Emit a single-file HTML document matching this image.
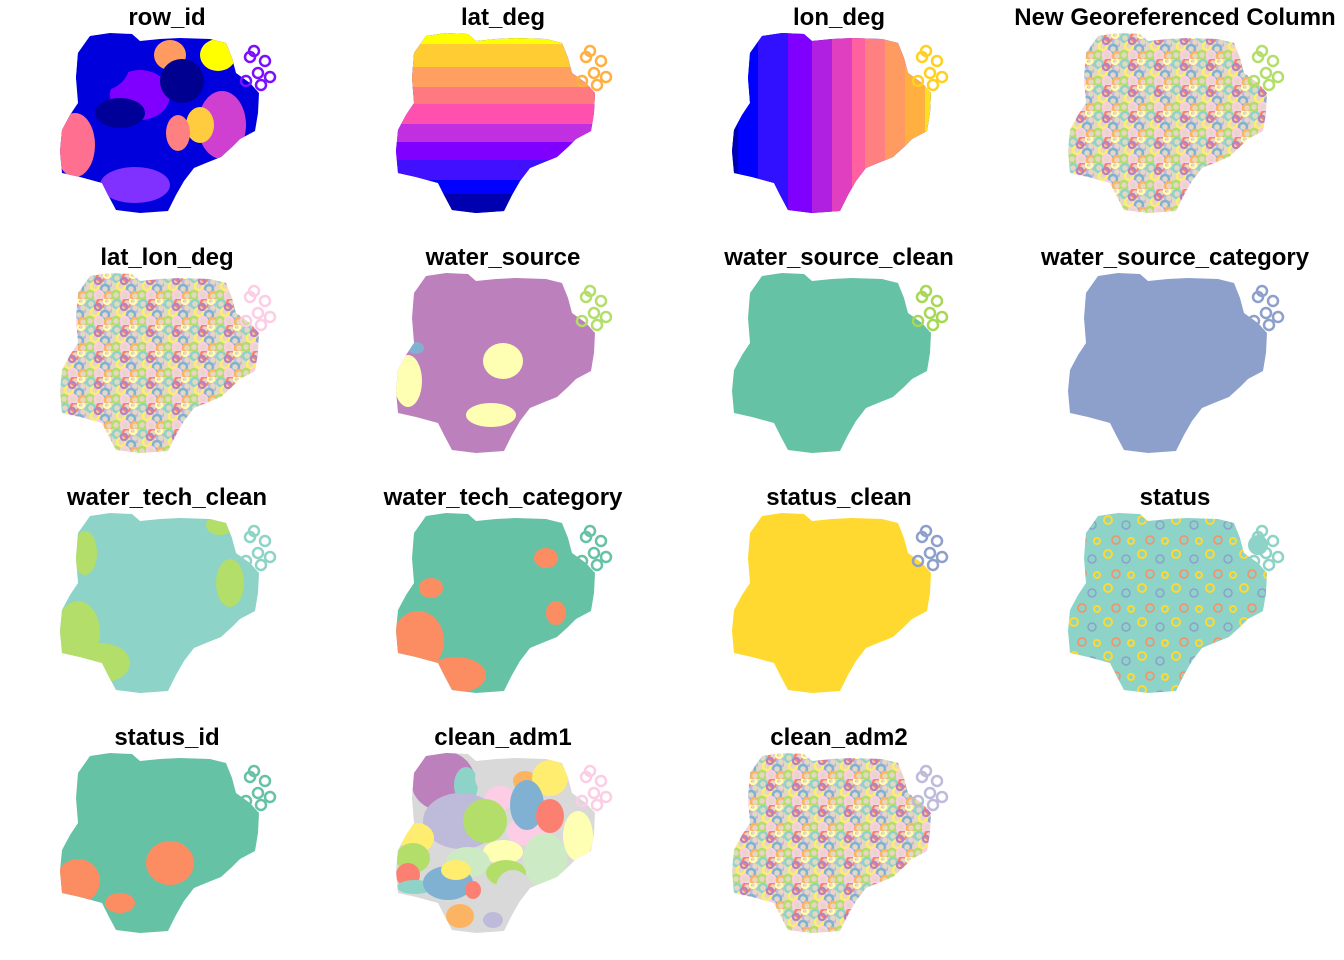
<!DOCTYPE html>
<html><head><meta charset="utf-8"><style>
html,body{margin:0;padding:0;background:#fff;width:1344px;height:960px;overflow:hidden}
svg text{font-family:"Liberation Sans",Arial,sans-serif;font-weight:bold;font-size:24px}
</style></head><body>
<svg id="chart" width="1344" height="960" xmlns="http://www.w3.org/2000/svg">
<defs>
<pattern id="rings" width="26" height="26" patternUnits="userSpaceOnUse">
<rect width="26" height="26" fill="#e4d8c4"/>
<circle cx="5" cy="5" r="4" fill="none" stroke="#8dd3c7" stroke-width="2.5"/>
<circle cx="15" cy="4" r="4" fill="none" stroke="#fb8072" stroke-width="2.5"/>
<circle cx="23" cy="9" r="4" fill="none" stroke="#bebada" stroke-width="2.5"/>
<circle cx="9" cy="13" r="4" fill="none" stroke="#ffed6f" stroke-width="2.5"/>
<circle cx="19" cy="16" r="4" fill="none" stroke="#80b1d3" stroke-width="2.5"/>
<circle cx="4" cy="22" r="4" fill="none" stroke="#b3de69" stroke-width="2.5"/>
<circle cx="13" cy="22" r="4" fill="none" stroke="#fccde5" stroke-width="2.5"/>
<circle cx="23" cy="23" r="4" fill="none" stroke="#fdb462" stroke-width="2.5"/>
<circle cx="12" cy="8" r="3" fill="none" stroke="#bc80bd" stroke-width="2.5"/>
<circle cx="21" cy="2" r="3" fill="none" stroke="#ffffb3" stroke-width="2.5"/>
</pattern>
<pattern id="sparse" width="34" height="34" patternUnits="userSpaceOnUse">
<rect width="34" height="34" fill="#8dd3c7"/>
<circle cx="6" cy="7" r="4" fill="none" stroke="#ffd92f" stroke-width="2"/>
<circle cx="24" cy="12" r="4" fill="none" stroke="#8da0cb" stroke-width="1.5"/>
<circle cx="14" cy="27" r="4" fill="none" stroke="#fc8d62" stroke-width="1.5"/>
<circle cx="29" cy="28" r="3" fill="none" stroke="#ffd92f" stroke-width="2"/>
</pattern>
</defs>
</svg>
<script>
// Panel titles and colour data
const panelTitles = ["row_id","lat_deg","lon_deg","New Georeferenced Column","lat_lon_deg","water_source","water_source_clean","water_source_category","water_tech_clean","water_tech_category","status_clean","status","status_id","clean_adm1","clean_adm2"];
const panelBase = ["#0000dd","#0000ff","#0000ff","url(#rings)","url(#rings)","#bc80bd","#66c2a5","#8da0cb","#8dd3c7","#66c2a5","#ffd92f","url(#sparse)","#66c2a5","#d9d9d9","url(#rings)"];
const clusterColor = ["#7a10ff","#ffb040","#ffd020","#b3de69","#fccde5","#b3de69","#a6d854","#8da0cb","#8dd3c7","#66c2a5","#8da0cb","#8dd3c7","#66c2a5","#fccde5","#bebada"];
const latBandColors = ["#ffff00","#ffcc33","#ffa060","#ff7a80","#ff50b0","#c030e0","#8000ff","#4010ff","#0000ff","#0000b0"];
const latBandEdges = [0,14,37,57,74,94,112,130,150,164,190];
const lonBandColors = ["#0000b0","#0000ff","#3010ff","#8000ff","#b020e0","#e040c0","#ff60a0","#ff8080","#ff9a60","#ffb040","#ffe020"];
const lonBandEdges = [0,6,26,56,80,100,120,133,153,173,193,220];
// patches: [panelIndex, cx, cy, rx, ry, color]
const patches = [
 [0,110,22,16,15,"#ff9a60"],[0,158,22,18,16,"#ffff00"],[0,162,92,24,34,"#d040d0"],[0,140,92,14,18,"#ffcc40"],
 [0,15,112,20,32,"#ff7090"],[0,80,62,30,25,"#8000ff"],[0,75,152,35,18,"#8030ff"],[0,118,100,12,18,"#ff8080"],
 [0,122,48,22,22,"#000090"],[0,60,80,25,15,"#000099"],[0,40,30,30,28,"#0000dd"],
 [5,107,88,20,18,"#ffffb3"],[5,12,108,14,26,"#ffffb3"],[5,95,142,25,12,"#ffffb3"],[5,20,75,8,6,"#80b1d3"],
 [8,18,120,22,32,"#b3de69"],[8,40,150,30,20,"#b3de69"],[8,25,40,12,22,"#b3de69"],[8,170,70,14,24,"#b3de69"],[8,160,12,14,10,"#b3de69"],
 [9,22,128,26,30,"#fc8d62"],[9,60,162,30,18,"#fc8d62"],[9,35,75,12,10,"#fc8d62"],[9,150,45,12,10,"#fc8d62"],[9,160,100,10,12,"#fc8d62"],
 [12,18,128,22,22,"#fc8d62"],[12,110,110,24,22,"#fc8d62"],[12,60,150,15,10,"#fc8d62"],
 [13,47,28,32,30,"#bc80bd"],[13,70,32,12,18,"#8dd3c7"],[13,101,25,22,18,"#d9d9d9"],[13,129,28,12,10,"#fdb462"],
 [13,154,25,18,18,"#ffed6f"],[13,65,68,38,28,"#bebada"],[13,104,45,15,12,"#fccde5"],[13,131,78,20,15,"#fccde5"],
 [13,131,52,17,25,"#80b1d3"],[13,154,63,14,17,"#fb8072"],[13,89,68,22,22,"#b3de69"],[13,182,83,15,25,"#ffffb3"],
 [13,107,99,20,12,"#ffffb3"],[13,149,107,22,27,"#ccebc5"],[13,72,109,22,15,"#ccebc5"],[13,110,120,20,13,"#b3de69"],
 [13,21,85,17,15,"#ffed6f"],[13,17,105,17,15,"#b3de69"],[13,12,122,12,12,"#fb8072"],[13,19,134,18,7,"#8dd3c7"],
 [13,52,130,25,17,"#80b1d3"],[13,60,117,15,10,"#ffed6f"],[13,117,135,17,18,"#d9d9d9"],[13,77,137,8,9,"#fb8072"],
 [13,64,163,14,12,"#fdb462"],[13,97,167,10,8,"#bebada"]
];
const outline = [[30,3],[50,0],[72,1],[80,8],[100,6],[120,5],[150,6],[166,10],[172,25],[176,40],[190,50],[199,60],[198,80],[195,98],[180,106],[172,114],[161,124],[146,130],[134,135],[124,148],[116,162],[108,178],[80,180],[56,177],[48,162],[42,150],[20,144],[2,140],[0,118],[2,97],[10,82],[18,70],[16,45],[18,20]];
const clusterRings = [[190,24],[205,28],[198,40],[210,44],[186,48],[201,52],[194,18]];

const svg = document.getElementById('chart');
const NS = "http://www.w3.org/2000/svg";
function mk(tag, attrs, parent){const e=document.createElementNS(NS,tag);for(const k in attrs)e.setAttribute(k,attrs[k]);parent.appendChild(e);return e;}
const defs = svg.querySelector('defs');
const ptsStr = outline.map(p=>p.join(',')).join(' ');

panelTitles.forEach((title,i)=>{
  const col=i%4,row=Math.floor(i/4);
  const ox=60+336*col, oy=33+240*row;
  const cp=mk('clipPath',{id:'clip'+i},defs);
  mk('polygon',{points:ptsStr},cp);
  const g=mk('g',{transform:`translate(${ox},${oy})`},svg);
  
  
  const t=mk('text',{x:107,y:-8,'text-anchor':'middle'},g);
  t.textContent=title;
  
  
  const inner=mk('g',{'clip-path':`url(#clip${i})`},g);
  
  
  mk('rect',{x:-5,y:-5,width:220,height:195,fill:panelBase[i]},inner);
  if(i===1){latBandColors.forEach((c,k)=>{mk('rect',{x:-5,y:latBandEdges[k]-3,width:220,height:latBandEdges[k+1]-latBandEdges[k],fill:c},inner);});}
  if(i===2){lonBandColors.forEach((c,k)=>{mk('rect',{x:lonBandEdges[k],y:-5,width:lonBandEdges[k+1]-lonBandEdges[k],height:195,fill:c},inner);});}
  patches.filter(p=>p[0]===i).forEach(p=>{mk('ellipse',{cx:p[1],cy:p[2],rx:p[3],ry:p[4],fill:p[5]},inner);});
  const cg=mk('g',{},g);
  
  
  clusterRings.forEach(r=>{mk('circle',{cx:r[0],cy:r[1],r:5,fill:'none',stroke:clusterColor[i],'stroke-width':2.5},cg);});
  if(i===11) mk('circle',{cx:190,cy:32,r:10,fill:'#8dd3c7'},cg);
});
</script>
</body></html>
